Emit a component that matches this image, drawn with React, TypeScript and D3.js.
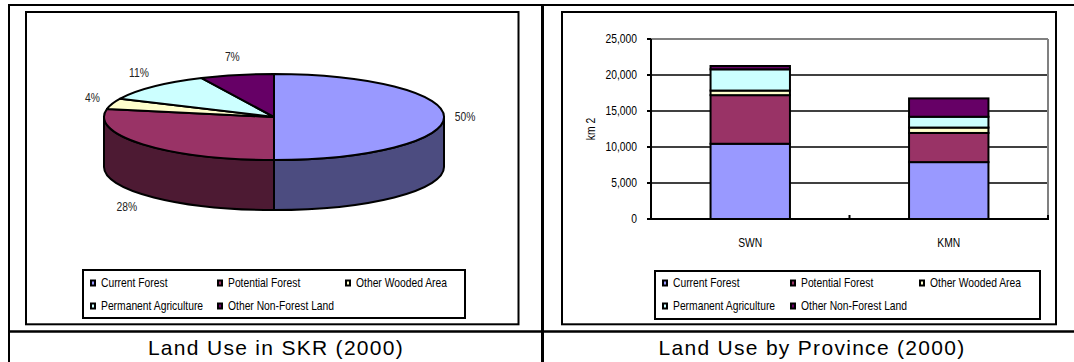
import React from 'react';
import * as d3 from 'd3';

const seriesNames = ['Current Forest', 'Potential Forest', 'Other Wooded Area', 'Permanent Agriculture', 'Other Non-Forest Land'];
const seriesColors = ['#9999FF', '#993366', '#FFFFCC', '#CCFFFF', '#660066'];
const seriesSideColors = ['#4C4C80', '#4D1A33', '#80805F', '#668080', '#330033'];

const pieShares = [50, 28, 4, 11, 7];

const categories = ['SWN', 'KMN'];
const currentForest = [10450, 7900];
const potentialForest = [6750, 4050];
const otherWooded = [640, 750];
const permanentAgri = [2950, 1500];
const otherNonForest = [460, 2550];
const yTicks = [0, 5000, 10000, 15000, 20000, 25000];

const leftCaption = 'Land Use in SKR (2000)';
const rightCaption = 'Land Use by Province (2000)';
const yAxisTitle = 'km 2';

const SANS = "'Liberation Sans', Arial, sans-serif";

function NText({ x, y, anchor = 'start', size = 12, fill = '#000', rotate = 0, children }: any) {
  return (
    <text
      transform={`translate(${x},${y}) rotate(${rotate}) scale(0.86,1)`}
      dy="0.35em"
      textAnchor={anchor}
      fontFamily={SANS}
      fontSize={size}
      fill={fill}
    >
      {children}
    </text>
  );
}

function Legend({ x0, y0, w, h, cols }: { x0: number; y0: number; w: number; h: number; cols: number[] }) {
  const rows = [283, 306];
  return (
    <g>
      <rect x={x0} y={y0} width={w} height={h} fill="#fff" stroke="#000" strokeWidth={2} />
      {seriesNames.map((name, i) => {
        const cx = cols[i % 3];
        const cy = rows[Math.floor(i / 3)];
        return (
          <g key={name}>
            <rect x={cx} y={cy - 3.5} width={6} height={7} fill="#000" />
            <rect x={cx + 2} y={cy - 1.5} width={2} height={3} fill={seriesColors[i]} />
            <NText x={cx + 11} y={cy}>{name}</NText>
          </g>
        );
      })}
    </g>
  );
}

function Pie3D() {
  const cx = 274, cy = 117, rx = 170, ry = 43, depth = 50;
  const arcs = d3.pie<number>().sort(null).startAngle(0).endAngle(2 * Math.PI)(pieShares);
  const pt = (a: number, dz = 0) => [cx + rx * Math.sin(a), cy - ry * Math.cos(a) + dz];
  const sides: any[] = [];
  arcs.forEach((a, i) => {
    const s = Math.max(a.startAngle, Math.PI / 2);
    const e = Math.min(a.endAngle, (3 * Math.PI) / 2);
    if (e <= s) return;
    const p0 = pt(s), p1 = pt(e), p2 = pt(e, depth), p3 = pt(s, depth);
    const large = e - s > Math.PI ? 1 : 0;
    const d = `M${p0[0]},${p0[1]} A${rx},${ry} 0 ${large} 1 ${p1[0]},${p1[1]} L${p2[0]},${p2[1]} A${rx},${ry} 0 ${large} 0 ${p3[0]},${p3[1]} Z`;
    sides.push(<path key={'s' + i} d={d} fill={seriesSideColors[i]} stroke="#000" strokeWidth={2} strokeLinejoin="round" />);
  });
  const tops = arcs.map((a, i) => {
    const p0 = pt(a.startAngle), p1 = pt(a.endAngle);
    const large = a.endAngle - a.startAngle > Math.PI ? 1 : 0;
    const d = `M${cx},${cy} L${p0[0]},${p0[1]} A${rx},${ry} 0 ${large} 1 ${p1[0]},${p1[1]} Z`;
    return <path key={'t' + i} d={d} fill={seriesColors[i]} stroke="#000" strokeWidth={2} strokeLinejoin="round" />;
  });
  const labels = arcs.map((a, i) => {
    const m = (a.startAngle + a.endAngle) / 2;
    const c = Math.cos(m);
    const x = cx + (rx + 21) * Math.sin(m);
    const y = cy - (ry + 19) * c + (c < -0.01 ? depth : 0);
    return (
      <NText key={'l' + i} x={x} y={y} anchor="middle" fill="#222">{`${pieShares[i]}%`}</NText>
    );
  });
  return <g>{sides}{tops}{labels}</g>;
}

function Bars() {
  const rows = categories.map((c, i) => ({
    cat: c,
    s0: currentForest[i],
    s1: potentialForest[i],
    s2: otherWooded[i],
    s3: permanentAgri[i],
    s4: otherNonForest[i],
  }));
  const stack = d3.stack<any>().keys(['s0', 's1', 's2', 's3', 's4'])(rows);
  const x = d3.scaleBand<string>().domain(categories).range([651, 1048]).paddingInner(0.6).paddingOuter(0.3);
  const y = d3.scaleLinear().domain([0, 25000]).range([219, 39]);
  const fmt = d3.format(',');
  const x0 = 651, x1 = 1048;
  return (
    <g>
      {yTicks.filter((t) => t > 0 && t < 25000).map((t) => (
        <line key={'g' + t} x1={x0} x2={x1} y1={y(t)} y2={y(t)} stroke="#000" strokeWidth={1.4} />
      ))}
      <line x1={x0} x2={x1} y1={y(25000)} y2={y(25000)} stroke="#808080" strokeWidth={2} />
      <line x1={x1} x2={x1} y1={y(25000)} y2={y(0)} stroke="#808080" strokeWidth={2} />
      {stack.map((layer, li) =>
        layer.map((d, ci) => (
          <rect
            key={li + '-' + ci}
            x={x(categories[ci])!}
            y={y(d[1])}
            width={x.bandwidth()}
            height={y(d[0]) - y(d[1])}
            fill={seriesColors[li]}
            stroke="#000"
            strokeWidth={2}
          />
        ))
      )}
      <line x1={x0} x2={x0} y1={y(25000)} y2={y(0)} stroke="#000" strokeWidth={2} />
      <line x1={x0} x2={x1 + 1} y1={y(0)} y2={y(0)} stroke="#000" strokeWidth={2} />
      {yTicks.map((t) => (
        <g key={'t' + t}>
          <line x1={x0 - 4} x2={x0} y1={y(t)} y2={y(t)} stroke="#000" strokeWidth={2} />
          <NText x={637} y={y(t)} anchor="end">{fmt(t)}</NText>
        </g>
      ))}
      {[x0 + (x1 - x0) / 2, x1].map((tx) => (
        <line key={'xt' + tx} x1={tx} x2={tx} y1={y(0)} y2={y(0) - 4} stroke="#000" strokeWidth={2} />
      ))}
      {categories.map((c) => (
        <NText key={c} x={x(c)! + x.bandwidth() / 2} y={243} anchor="middle">{c}</NText>
      ))}
      <NText x={591} y={129} anchor="middle" rotate={-90}>{yAxisTitle}</NText>
    </g>
  );
}

export default function App() {
  return (
    <svg width={1074} height={362} style={{ position: 'absolute', left: 0, top: 0, background: '#fff' }}>
      <rect x={0} y={0} width={1074} height={362} fill="#fff" />
      <line x1={8} x2={1074} y1={5} y2={5} stroke="#000" strokeWidth={2} />
      <line x1={9} x2={9} y1={4} y2={362} stroke="#000" strokeWidth={2} />
      <line x1={542.5} x2={542.5} y1={4} y2={362} stroke="#000" strokeWidth={3} />
      <line x1={8} x2={1074} y1={331.5} y2={331.5} stroke="#000" strokeWidth={2.5} />
      <rect x={26} y={12} width={492.5} height={312.3} fill="#fff" stroke="#000" strokeWidth={2} />
      <Pie3D />
      <Legend x0={83} y0={270} w={382} h={48} cols={[90, 217, 345]} />
      <rect x={562} y={12} width={494} height={312.3} fill="#fff" stroke="#000" strokeWidth={2} />
      <Bars />
      <Legend x0={655} y0={271} w={385} h={48} cols={[662, 790, 919]} />
      <text x={276} y={355} textAnchor="middle" fontFamily={SANS} fontSize={21} letterSpacing={1.3} fill="#000">{leftCaption}</text>
      <text x={812} y={355} textAnchor="middle" fontFamily={SANS} fontSize={21} letterSpacing={1.3} fill="#000">{rightCaption}</text>
    </svg>
  );
}
